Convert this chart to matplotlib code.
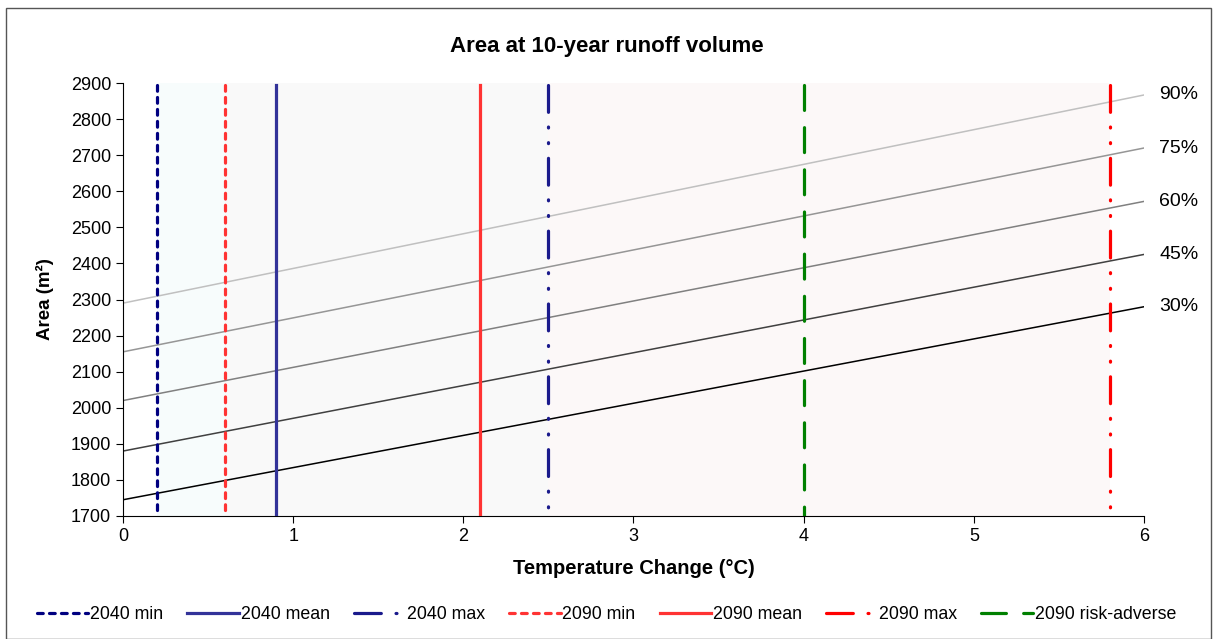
import numpy as np
import matplotlib
matplotlib.use("Agg")
import matplotlib.pyplot as plt
from matplotlib.patches import Rectangle

plt.rcParams['font.family'] = ['Liberation Sans', 'DejaVu Sans']

# temperature change range for the percentile lines
temp = [0, 6]

# percentile lines: area at 0 and 6 degrees
pct_labels = ['30%', '45%', '60%', '75%', '90%']
pct_start = [1745, 1880, 2020, 2155, 2290]
pct_end = [2280, 2425, 2572, 2720, 2867]
pct_colors = ['#000000', '#404040', '#808080', '#969696', '#c0c0c0']

# scenario markers (temperature change, deg C)
scen_names = ['2040 min', '2040 mean', '2040 max', '2090 min', '2090 mean', '2090 max', '2090 risk-adverse']
scen_x = [0.2, 0.9, 2.5, 0.6, 2.1, 5.8, 4.0]
scen_colors = ['#000080', '#333399', '#1a1a8c', '#ff3333', '#ff3333', '#ff0000', '#008000']

# shaded bands between scenarios
bands = [(0.2, 0.6, '#f7fcfc'), (0.6, 2.5, '#f9f9f9'), (2.5, 5.8, '#fcf8f8')]

fig = plt.figure(figsize=(12.13, 6.39), dpi=100)
ax = fig.add_axes([0.1014, 0.1925, 0.8417, 0.6775])

for x0, x1, c in bands:
    ax.axvspan(x0, x1, color=c, lw=0, zorder=0)

for lab, y0, y1, c in zip(pct_labels, pct_start, pct_end, pct_colors):
    ax.plot(temp, [y0, y1], color=c, lw=1.1, zorder=2)
    ax.text(6.09, y1, lab, fontsize=14, va='center', ha='left')

dashdotdot = (8.4, 4.6, 0.3, 4.6, 0.3, 4.6)
styles = [
    dict(dashes=(1.8, 1.95), lw=2.3, dash_capstyle='round'),
    dict(ls='-', lw=2.3),
    dict(dashes=dashdotdot, lw=2.3, dash_capstyle='round'),
    dict(dashes=(1.8, 1.95), lw=2.3, dash_capstyle='round'),
    dict(ls='-', lw=2.3),
    dict(dashes=dashdotdot, lw=2.3, dash_capstyle='round'),
    dict(dashes=(7.8, 5.4), lw=2.3, dash_capstyle='round'),
]
# drawn top-down so the dash pattern starts at the top like the original
for name, x, c, st in zip(scen_names, scen_x, scen_colors, styles):
    ax.plot([x, x], [2895, 1700], color=c, label=name, zorder=3, **st)

ax.set_xlim(0, 6)
ax.set_ylim(1700, 2900)
ax.set_xticks(range(0, 7))
ax.set_yticks(range(1700, 3000, 100))
ax.spines['top'].set_visible(False)
ax.spines['right'].set_visible(False)
ax.tick_params(labelsize=13, direction='out', length=5)
ax.set_facecolor('none')

ax.set_xlabel('Temperature Change (°C)', fontsize=14.5, fontweight='bold', labelpad=10)
ax.set_ylabel('Area (m²)', fontsize=13.5, fontweight='bold', labelpad=12)
fig.text(0.5, 0.928, 'Area at 10-year runoff volume', ha='center', va='center',
         fontsize=16, fontweight='bold')

fig.legend(loc='center', bbox_to_anchor=(0.5, 0.038), ncol=7, frameon=False,
           fontsize=12.8, handlelength=2.9, handletextpad=0.1, columnspacing=1.35)

fig.patches.append(Rectangle((6 / 1213, 0), 1205 / 1213, 631 / 639, transform=fig.transFigure,
                             fill=False, edgecolor='#555555', lw=1))

fig.savefig('out.png', dpi=100)
